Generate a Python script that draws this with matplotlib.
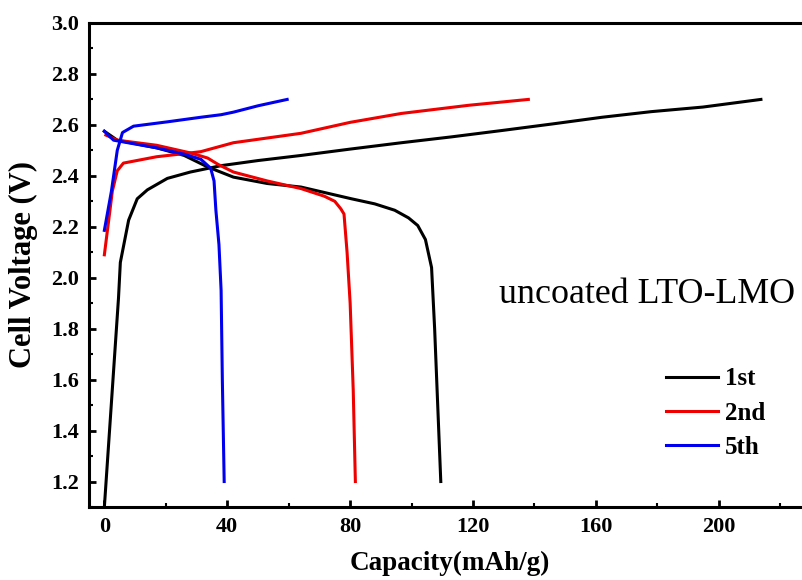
import matplotlib
matplotlib.use("Agg")
import matplotlib.pyplot as plt
from matplotlib.ticker import MultipleLocator

plt.rcParams['font.family'] = ['Liberation Serif', 'DejaVu Serif']
plt.rcParams['font.weight'] = 'bold'

# 1st cycle
cap_1st_chg = [0, 4.6, 5.2, 7.9, 10.7, 14, 20.5, 28, 38, 50, 64, 80, 96.7, 113, 129.4, 146, 162, 178, 194.8, 213.7]
v_1st_chg = [1.10, 1.92, 2.06, 2.226, 2.31, 2.345, 2.39, 2.415, 2.44, 2.46, 2.48, 2.505, 2.53, 2.553, 2.578, 2.604, 2.63, 2.652, 2.67, 2.70]
cap_1st_dis = [0, 4.2, 17, 26, 33.6, 42, 53, 64, 80.4, 88, 94.5, 99, 102, 104.5, 106.5, 107.5, 108.5, 109.5]
v_1st_dis = [2.575, 2.54, 2.51, 2.48, 2.435, 2.395, 2.37, 2.356, 2.31, 2.29, 2.265, 2.235, 2.205, 2.15, 2.04, 1.80, 1.50, 1.20]

# 2nd cycle
cap_2nd_chg = [0, 2.6, 4.2, 6.2, 17, 28, 31.4, 42, 64, 80, 96.7, 118.6, 138]
v_2nd_chg = [2.09, 2.34, 2.42, 2.45, 2.475, 2.49, 2.495, 2.53, 2.567, 2.61, 2.645, 2.677, 2.70]
cap_2nd_dis = [0.5, 4.2, 17, 28, 33.6, 37, 42, 53, 64, 71.6, 75, 77, 78, 79, 80, 81, 81.7]
v_2nd_dis = [2.56, 2.54, 2.52, 2.49, 2.47, 2.445, 2.415, 2.38, 2.35, 2.32, 2.30, 2.27, 2.25, 2.10, 1.90, 1.56, 1.20]

# 5th cycle
cap_5th_chg = [0, 2.3, 4.2, 5.9, 9.5, 20.5, 31.4, 38, 42, 50, 59.5]
v_5th_chg = [2.186, 2.34, 2.50, 2.57, 2.595, 2.612, 2.63, 2.64, 2.65, 2.675, 2.70]
cap_5th_dis = [0, 3, 17, 26, 31.4, 34.6, 35.7, 36.3, 37.3, 38, 38.4, 39]
v_5th_dis = [2.575, 2.54, 2.51, 2.485, 2.465, 2.43, 2.38, 2.265, 2.13, 1.95, 1.60, 1.20]

labels = ["1st", "2nd", "5th"]
colors = ["black", "#ee0000", "#0000ee"]

fig = plt.figure(figsize=(8.02, 5.80), dpi=100)
ax = fig.add_axes([89 / 802, 73 / 580, 722 / 802, 484 / 580])

lw = 2.2
ax.plot(cap_1st_chg, v_1st_chg, color=colors[0], lw=lw, label=labels[0])
ax.plot(cap_1st_dis, v_1st_dis, color=colors[0], lw=lw)
ax.plot(cap_2nd_chg, v_2nd_chg, color=colors[1], lw=lw, label=labels[1])
ax.plot(cap_2nd_dis, v_2nd_dis, color=colors[1], lw=lw)
ax.plot(cap_5th_chg, v_5th_chg, color=colors[2], lw=lw, label=labels[2])
ax.plot(cap_5th_dis, v_5th_dis, color=colors[2], lw=lw)

ax.set_xlim(-5, 230)
ax.set_ylim(1.1, 3.0)
ax.xaxis.set_major_locator(MultipleLocator(40))
ax.xaxis.set_minor_locator(MultipleLocator(20))
ax.yaxis.set_major_locator(MultipleLocator(0.2))
ax.yaxis.set_minor_locator(MultipleLocator(0.1))
ax.yaxis.set_major_formatter(plt.FormatStrFormatter('%.1f'))

for s in ax.spines.values():
    s.set_linewidth(2.2)
ax.tick_params(which='major', direction='in', length=5, width=2, labelsize=16, pad=7)
ax.tick_params(which='minor', direction='in', length=3, width=1.5)
ax.tick_params(top=False, right=False)

ax.set_xlabel("Capacity(mAh/g)", fontsize=19.5, fontweight='bold', labelpad=10)
ax.set_ylabel("Cell Voltage (V)", fontsize=22, fontweight='bold', labelpad=10)

ax.text(128.4, 1.90, "uncoated LTO-LMO", fontsize=25.8, fontweight='normal',
        ha='left', va='baseline')

leg = ax.legend(loc='center left', bbox_to_anchor=(0.768, 0.194), frameon=False,
                prop={'size': 18, 'weight': 'bold'}, handlelength=2.1,
                handletextpad=0.25, labelspacing=0.45)

fig.savefig("out.png", dpi=100)
